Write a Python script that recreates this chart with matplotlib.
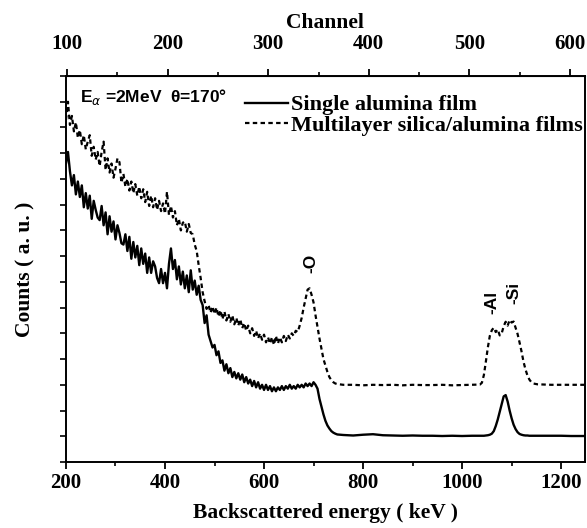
import matplotlib
matplotlib.use("Agg")
import matplotlib.pyplot as plt
from matplotlib.ticker import MultipleLocator, FixedLocator, NullFormatter
from matplotlib.font_manager import FontProperties

# backscattered energy (keV), shared by both spectra
energy_kev = [
    200, 204, 208, 212, 216, 220, 224, 228, 232, 236,
    240, 244, 248, 252, 256, 260, 264, 268, 272, 276,
    280, 284, 288, 292, 296, 300, 304, 308, 312, 316,
    320, 324, 328, 332, 336, 340, 344, 348, 352, 356,
    360, 364, 368, 372, 376, 380, 384, 388, 392, 396,
    400, 404, 408, 412, 416, 420, 424, 428, 432, 436,
    440, 444, 448, 452, 456, 460, 464, 468, 472, 476,
    480, 484, 488, 492, 496, 500, 504, 508, 512, 516,
    520, 524, 528, 532, 536, 540, 544, 548, 552, 556,
    560, 564, 568, 572, 576, 580, 584, 588, 592, 596,
    600, 604, 608, 612, 616, 620, 624, 628, 632, 636,
    640, 644, 648, 652, 656, 660, 664, 668, 672, 676,
    680, 684, 688, 692, 696, 700, 704, 708, 712, 716,
    720, 724, 728, 732, 736, 740, 744, 748,
    760, 780, 800, 820, 840, 860, 880, 900, 920, 940, 960, 980, 1000, 1020,
    1036, 1040, 1044, 1048, 1052, 1056, 1060, 1064, 1068, 1072,
    1076, 1080, 1084, 1088, 1092, 1096, 1100, 1104, 1108, 1112,
    1116, 1120, 1124, 1128, 1132, 1136, 1140, 1144,
    1152, 1164, 1180, 1200, 1220, 1248,
]

single_alumina = [
    11.6, 12.05, 11.3, 10.75, 11.15, 10.4, 10.9, 10.3, 10.75, 9.9,
    10.45, 9.85, 10.35, 9.45, 10.15, 9.8, 9.5, 9.4, 9.95, 9.2,
    9.7, 8.85, 9.55, 8.95, 9.35, 8.65, 9.2, 8.9, 8.5, 8.45,
    8.85, 8.2, 8.75, 7.9, 8.55, 7.95, 8.4, 7.65, 8.3, 7.7,
    8.1, 7.35, 7.95, 7.35, 7.8, 7.6, 7.15, 6.95, 7.5, 6.95,
    7.35, 6.75, 7.7, 8.3, 7.5, 7.85, 7.1, 7.6, 6.9, 7.4,
    6.75, 7.25, 6.6, 7.45, 6.7, 7.05, 6.5, 6.85, 6.3, 6.1,
    5.4, 5.7, 4.95, 4.7, 4.45, 4.55, 4.15, 4.3, 3.85, 3.95,
    3.55, 3.8, 3.45, 3.65, 3.3, 3.5, 3.25, 3.45, 3.2, 3.4,
    3.1, 3.3, 3.05, 3.2, 2.95, 3.15, 2.9, 3.1, 2.85, 3.0,
    2.8, 3.0, 2.8, 2.95, 2.75, 2.9, 2.75, 2.9, 2.8, 2.95,
    2.8, 2.95, 2.85, 3.0, 2.85, 2.95, 2.85, 3.0, 2.9, 3.0,
    2.9, 3.05, 2.95, 3.05, 2.95, 3.1, 3.0, 2.85, 2.45, 2.15,
    1.85, 1.6, 1.42, 1.3, 1.2, 1.14, 1.1, 1.07,
    1.05, 1.03, 1.06, 1.08, 1.04, 1.03, 1.02, 1.03, 1.02, 1.02, 1.01, 1.02, 1.01, 1.02,
    1.02, 1.02, 1.02, 1.03, 1.04, 1.06, 1.1, 1.2, 1.4, 1.65,
    1.95, 2.25, 2.55, 2.6, 2.35, 2.0, 1.7, 1.45, 1.28, 1.16,
    1.09, 1.06, 1.04, 1.03, 1.03, 1.02, 1.02, 1.02,
    1.02, 1.02, 1.02, 1.02, 1.01, 1.01,
]

multilayer = [
    13.3, 14.0, 13.1, 13.45, 12.85, 13.2, 12.6, 12.9, 12.35, 12.7,
    12.15, 12.45, 12.7, 11.9, 12.25, 11.75, 12.05, 11.5, 12.05, 12.45,
    11.35, 11.8, 11.25, 11.6, 11.05, 11.4, 11.8, 11.65, 10.85, 11.2,
    10.7, 11.0, 10.55, 10.9, 10.45, 10.8, 10.35, 10.7, 10.25, 10.6,
    10.1, 10.5, 9.95, 10.35, 9.9, 10.25, 9.8, 10.15, 9.75, 10.05,
    9.65, 10.5, 9.6, 9.95, 9.5, 9.75, 9.2, 9.45, 9.0, 9.3,
    9.35, 8.95, 9.25, 8.9, 8.85, 8.45, 8.2, 7.65, 7.15, 6.6,
    6.25, 5.95, 6.1, 5.8, 6.05, 5.75, 6.0, 5.65, 5.9, 5.55,
    5.85, 5.5, 5.75, 5.45, 5.7, 5.35, 5.6, 5.3, 5.55, 5.2,
    5.4, 5.1, 5.3, 5.0, 5.2, 4.9, 5.1, 4.8, 5.0, 4.75,
    4.95, 4.65, 4.85, 4.6, 4.85, 4.55, 4.9, 4.6, 4.85, 4.65,
    4.9, 4.7, 4.95, 4.8, 5.0, 4.9, 5.1, 5.05, 5.3, 5.6,
    6.0, 6.35, 6.7, 6.75, 6.5, 6.2, 5.7, 5.25, 4.8, 4.4,
    4.0, 3.75, 3.5, 3.3, 3.18, 3.1, 3.05, 3.03,
    3.0, 3.0, 2.98, 3.0, 2.99, 3.0, 2.98, 3.0, 2.99, 2.99, 3.0, 2.98, 2.99, 3.0,
    3.01, 3.08, 3.38, 3.9, 4.45, 4.9, 5.12, 5.22, 5.05, 5.15,
    4.92, 5.0, 5.28, 5.45, 5.3, 5.52, 5.42, 5.46, 5.22, 4.98,
    4.65, 4.3, 3.9, 3.6, 3.36, 3.2, 3.1, 3.05,
    3.02, 3.01, 3.0, 3.0, 3.0, 3.0,
]

channel_ticks = [100, 200, 300, 400, 500, 600]

# element edge labels: text, energy, counts at text base
peak_labels = [("-O", 695, 7.35), ("-Al", 1061, 5.75), ("-Si", 1104, 6.15)]

tick_font = FontProperties(family="Liberation Serif", weight="bold", size=15)
label_font = FontProperties(family="Liberation Serif", weight="bold", size=15.5)
legend_font = FontProperties(family="Liberation Serif", weight="bold", size=16)
sans = FontProperties(family="Liberation Sans", weight="bold", size=12.5)


def e_to_ch(e):
    return 100 + (e - 202) / 2.032


def ch_to_e(c):
    return 202 + (c - 100) * 2.032


fig = plt.figure(figsize=(5.87, 5.28), dpi=100)
ax = fig.add_axes([0.1124, 0.125, 0.884, 0.731])

ax.plot(energy_kev, single_alumina, color="black", lw=1.7, label="Single alumina film")
ax.plot(energy_kev, multilayer, color="black", lw=1.6, linestyle=(0, (2.0, 1.5)),
        label="Multilayer silica/alumina films")

ax.set_xlim(200, 1248)
ax.set_ylim(0, 15)
ax.xaxis.set_major_locator(MultipleLocator(200))
ax.xaxis.set_minor_locator(MultipleLocator(100))
ax.yaxis.set_major_locator(MultipleLocator(1))
ax.yaxis.set_major_formatter(NullFormatter())
ax.tick_params(axis="x", which="major", direction="out", length=5, width=1.3, pad=3)
ax.tick_params(axis="x", which="minor", direction="out", length=3, width=1.2)
ax.tick_params(axis="y", direction="out", length=4.5, width=1.2)
for lab in ax.get_xticklabels():
    lab.set_fontproperties(tick_font)
for sp in ax.spines.values():
    sp.set_linewidth(1.4)

ax.set_xlabel("Backscattered energy ( keV )", fontproperties=label_font, labelpad=7)
ax.set_ylabel("Counts ( a. u. )", fontproperties=label_font, labelpad=14)

top = ax.secondary_xaxis("top", functions=(e_to_ch, ch_to_e))
top.xaxis.set_major_locator(FixedLocator(channel_ticks))
top.xaxis.set_minor_locator(FixedLocator([150, 250, 350, 450, 550]))
top.tick_params(axis="x", which="major", direction="out", length=5, width=1.3, pad=11)
top.tick_params(axis="x", which="minor", direction="out", length=3, width=1.2)
for lab in top.get_xticklabels():
    lab.set_fontproperties(tick_font)
top.set_xlabel("Channel", fontproperties=label_font, labelpad=4)

ax.text(0.027, 0.972, r"E$_\alpha$ =2MeV  θ=170°", transform=ax.transAxes,
        fontproperties=sans, ha="left", va="top")

for txt, e, c in peak_labels:
    ax.text(e, c, txt, rotation=90, ha="center", va="bottom", fontproperties=sans)

ax.legend(loc="upper right", bbox_to_anchor=(1.0, 0.957), frameon=False, prop=legend_font,
          handlelength=1.9, handletextpad=0.15, borderaxespad=0.0, labelspacing=0.0,
          borderpad=0.1)

fig.savefig("out.png", dpi=100)
